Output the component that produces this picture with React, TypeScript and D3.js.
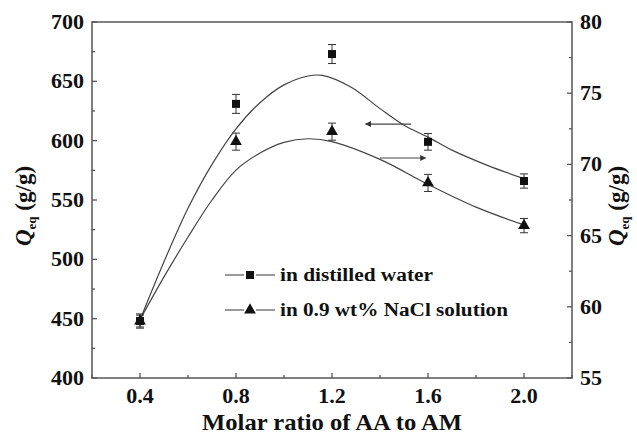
import React, { useEffect, useRef } from 'react';
import * as d3 from 'd3';

// measured points
const ratios = [0.4, 0.8, 1.2, 1.6, 2.0];
const waterQ = [448, 631, 673, 599, 566];
const waterErr = [5, 8, 8, 7, 6];
const salineQ = [59.0, 71.6, 72.3, 68.7, 65.7];
const salineErr = [0.5, 0.6, 0.6, 0.6, 0.5];

// fitted curves
const waterFitX = [0.4, 0.5, 0.6, 0.7, 0.8, 0.9, 1.0, 1.1, 1.16, 1.28, 1.4, 1.5, 1.6, 1.7, 1.85, 2.0];
const waterFit = [449, 498, 543, 580, 610, 632, 647, 654.5, 655, 645, 627, 613, 603, 592, 579, 568];
const salineFitX = [0.4, 0.5, 0.6, 0.7, 0.8, 0.9, 1.0, 1.1, 1.2, 1.4, 1.6, 1.8, 2.0];
const salineFit = [59.1, 62.1, 64.9, 67.5, 69.6, 70.8, 71.55, 71.8, 71.6, 70.35, 68.6, 67.0, 65.75];

const xTicks = [0.4, 0.8, 1.2, 1.6, 2.0];
const xMinor = [0.2, 0.6, 1.0, 1.4, 1.8, 2.2];
const leftTicks = [400, 450, 500, 550, 600, 650, 700];
const leftMinor = [425, 475, 525, 575, 625, 675];
const rightTicks = [55, 60, 65, 70, 75, 80];
const rightMinor = [57.5, 62.5, 67.5, 72.5, 77.5];

const legendLabels = ['in distilled water', 'in 0.9 wt% NaCl solution'];
const legendWidths = [153, 228];

const App = () => {
	const ref = useRef<SVGSVGElement>(null);

	useEffect(() => {
		const svg = d3.select(ref.current);
		svg.selectAll('*').remove();

		const margin = { top: 22, right: 65, bottom: 57, left: 92 };
		const W = 637, H = 435;
		const x = d3.scaleLinear().domain([0.2, 2.2]).range([margin.left, W - margin.right]);
		const yL = d3.scaleLinear().domain([400, 700]).range([H - margin.bottom, margin.top]);
		const yR = d3.scaleLinear().domain([55, 80]).range([H - margin.bottom, margin.top]);
		const font = '"Liberation Serif", "Times New Roman", serif';
		const axisColor = '#555';

		const defs = svg.append('defs');
		defs.append('marker')
			.attr('id', 'ah')
			.attr('viewBox', '0 0 10 10')
			.attr('refX', 9).attr('refY', 5)
			.attr('markerWidth', 7).attr('markerHeight', 5)
			.attr('orient', 'auto')
			.append('path')
			.attr('d', 'M0,0 L10,5 L0,10 Z')
			.attr('fill', '#333');

		const x0 = x.range()[0], x1 = x.range()[1];
		const yb = yL.range()[0], yt = yL.range()[1];

		// frame
		svg.append('rect')
			.attr('x', x0).attr('y', yt)
			.attr('width', x1 - x0).attr('height', yb - yt)
			.attr('fill', 'none')
			.attr('stroke', axisColor)
			.attr('stroke-width', 1.5);

		const g = svg.append('g').style('font-family', font).style('font-weight', 'bold').attr('fill', '#111');

		// bottom ticks
		xTicks.forEach(t => {
			g.append('line').attr('x1', x(t)).attr('x2', x(t)).attr('y1', yb).attr('y2', yb - 5).attr('stroke', axisColor).attr('stroke-width', 1.3);
			g.append('text').attr('x', x(t)).attr('y', yb + 25).attr('text-anchor', 'middle').attr('font-size', 22).text(t.toFixed(1));
		});
		xMinor.forEach(t => {
			g.append('line').attr('x1', x(t)).attr('x2', x(t)).attr('y1', yb).attr('y2', yb - 3).attr('stroke', axisColor).attr('stroke-width', 1.3);
		});

		// left ticks
		leftTicks.forEach(t => {
			g.append('line').attr('x1', x0).attr('x2', x0 + 5).attr('y1', yL(t)).attr('y2', yL(t)).attr('stroke', axisColor).attr('stroke-width', 1.3);
			g.append('text').attr('x', x0 - 8).attr('y', yL(t) + 7).attr('text-anchor', 'end').attr('font-size', 22).text(t);
		});
		leftMinor.forEach(t => {
			g.append('line').attr('x1', x0).attr('x2', x0 + 3).attr('y1', yL(t)).attr('y2', yL(t)).attr('stroke', axisColor).attr('stroke-width', 1.3);
		});

		// right ticks
		rightTicks.forEach(t => {
			g.append('line').attr('x1', x1).attr('x2', x1 - 5).attr('y1', yR(t)).attr('y2', yR(t)).attr('stroke', axisColor).attr('stroke-width', 1.3);
			g.append('text').attr('x', x1 + 8).attr('y', yR(t) + 7).attr('text-anchor', 'start').attr('font-size', 22).text(t);
		});
		rightMinor.forEach(t => {
			g.append('line').attr('x1', x1).attr('x2', x1 - 3).attr('y1', yR(t)).attr('y2', yR(t)).attr('stroke', axisColor).attr('stroke-width', 1.3);
		});

		// axis titles
		g.append('text')
			.attr('x', (x0 + x1) / 2 - 130).attr('y', 430)
			.attr('font-size', 23)
			.attr('textLength', 260).attr('lengthAdjust', 'spacingAndGlyphs')
			.text('Molar ratio of AA to AM');

		const yTitle = (cx: number) => {
			const t = g.append('text')
				.attr('transform', `translate(${cx},206) rotate(-90)`)
				.attr('text-anchor', 'middle').attr('font-size', 23);
			t.append('tspan').attr('font-style', 'italic').text('Q');
			t.append('tspan').attr('font-size', 13).attr('dy', 5).text('eq');
			t.append('tspan').attr('dy', -5).text(' (g/g)');
		};
		yTitle(31);
		yTitle(624);

		// fitted curves
		const curveL = d3.line<number>().x((d, i) => x(waterFitX[i])).y(d => yL(d)).curve(d3.curveCatmullRom.alpha(0.5));
		const curveR = d3.line<number>().x((d, i) => x(salineFitX[i])).y(d => yR(d)).curve(d3.curveCatmullRom.alpha(0.5));
		svg.append('path').datum(waterFit).attr('d', curveL).attr('fill', 'none').attr('stroke', '#444').attr('stroke-width', 1.2);
		svg.append('path').datum(salineFit).attr('d', curveR).attr('fill', 'none').attr('stroke', '#444').attr('stroke-width', 1.2);

		// error bars
		const errBar = (cx: number, ylo: number, yhi: number) => {
			svg.append('line').attr('x1', cx).attr('x2', cx).attr('y1', ylo).attr('y2', yhi).attr('stroke', '#333').attr('stroke-width', 1);
			[ylo, yhi].forEach(yy => {
				svg.append('line').attr('x1', cx - 4).attr('x2', cx + 4).attr('y1', yy).attr('y2', yy).attr('stroke', '#333').attr('stroke-width', 1);
			});
		};
		ratios.forEach((r, i) => {
			errBar(x(r), yL(waterQ[i] - waterErr[i]), yL(waterQ[i] + waterErr[i]));
			errBar(x(r), yR(salineQ[i] - salineErr[i]), yR(salineQ[i] + salineErr[i]));
		});

		const sq = d3.symbol().type(d3.symbolSquare).size(64);
		const tri = d3.symbol().type(d3.symbolTriangle).size(60);
		ratios.forEach((r, i) => {
			svg.append('path').attr('d', tri()).attr('transform', `translate(${x(r)},${yR(salineQ[i])})`).attr('fill', '#111');
			svg.append('path').attr('d', sq()).attr('transform', `translate(${x(r)},${yL(waterQ[i])})`).attr('fill', '#111');
		});

		// arrows pointing to the axis of each series
		svg.append('line')
			.attr('x1', x(1.53)).attr('x2', x(1.34))
			.attr('y1', yL(614)).attr('y2', yL(614))
			.attr('stroke', '#444').attr('stroke-width', 1.2)
			.attr('marker-end', 'url(#ah)');
		svg.append('line')
			.attr('x1', x(1.4)).attr('x2', x(1.59))
			.attr('y1', yR(70.45)).attr('y2', yR(70.45))
			.attr('stroke', '#444').attr('stroke-width', 1.2)
			.attr('marker-end', 'url(#ah)');

		// legend
		const symbols = [sq, tri];
		legendLabels.forEach((lab, i) => {
			const ly = 275 + i * 35;
			svg.append('line').attr('x1', 225).attr('x2', 244).attr('y1', ly).attr('y2', ly).attr('stroke', '#555').attr('stroke-width', 1.2);
			svg.append('line').attr('x1', 256).attr('x2', 275).attr('y1', ly).attr('y2', ly).attr('stroke', '#555').attr('stroke-width', 1.2);
			svg.append('path').attr('d', symbols[i]()).attr('transform', `translate(250,${ly})`).attr('fill', '#111');
			g.append('text').attr('x', 280).attr('y', ly + 6).attr('font-size', 18)
				.attr('textLength', legendWidths[i]).attr('lengthAdjust', 'spacingAndGlyphs')
				.text(lab);
		});
	}, []);

	return (
		<svg ref={ref} width={637} height={435} style={{ position: 'absolute', left: 0, top: 0, background: '#fff' }} />
	);
};

export default App;
